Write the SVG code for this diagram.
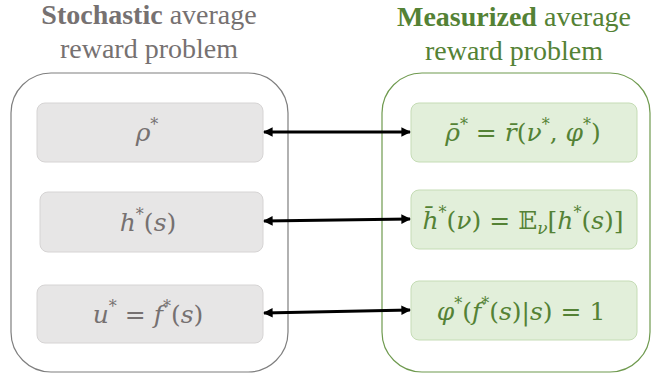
<svg xmlns="http://www.w3.org/2000/svg" width="651" height="374" viewBox="0 0 651 374">
<defs>
<style>
.title{font-family:'Liberation Serif',serif;font-size:28px;text-anchor:middle}
.gray{fill:#767171}
.green{fill:#548235}
.math{font-family:'DejaVu Serif',serif;font-size:25px;text-anchor:middle}
.i{font-style:italic}
.sup{font-size:16px}
.lbox{fill:#e7e6e6;stroke:#d6d4d4;stroke-width:1}
.rbox{fill:#e2efda;stroke:#c5dcb5;stroke-width:1}
.conn{stroke:#000;stroke-width:3;fill:none;marker-start:url(#ah);marker-end:url(#ah)}
</style>
<marker id="ah" viewBox="0 0 10 10" refX="9" refY="5" markerWidth="4" markerHeight="3.2" orient="auto-start-reverse" markerUnits="strokeWidth">
<path d="M0,0 L10,5 L0,10 z" fill="#000"/>
</marker>
</defs>
<rect width="651" height="374" fill="#fff"/>

<g id="stochastic">
<rect x="11" y="73" width="277" height="299" rx="40" fill="none" stroke="#7f7f7f" stroke-width="1.2"/>
<text class="title gray" x="149" y="24"><tspan font-weight="bold">Stochastic</tspan> average</text>
<text class="title gray" x="149" y="58">reward problem</text>
</g>

<g id="measurized">
<rect x="382" y="73" width="268" height="299" rx="40" fill="none" stroke="#6f9a4f" stroke-width="1.2"/>
<text class="title green" x="514" y="26"><tspan font-weight="bold">Measurized</tspan> average</text>
<text class="title green" x="514" y="60">reward problem</text>
</g>

<g id="rho">
<rect class="lbox" x="37" y="103" width="226" height="59" rx="8"/>
<text class="math gray" x="147" y="141"><tspan class="i">ρ</tspan><tspan class="sup" dy="-11">*</tspan></text>
</g>
<g id="h">
<rect class="lbox" x="40" y="192" width="223" height="60" rx="8"/>
<text class="math gray" x="148" y="231"><tspan class="i">h</tspan><tspan class="sup" dy="-11">*</tspan><tspan dy="11">(</tspan><tspan class="i">s</tspan>)</text>
</g>
<g id="u">
<rect class="lbox" x="37" y="285" width="226" height="58" rx="8"/>
<text class="math gray" x="148" y="323"><tspan class="i">u</tspan><tspan class="sup" dy="-11">*</tspan><tspan dy="11"> = </tspan><tspan class="i">f</tspan><tspan class="sup" dy="-11">*</tspan><tspan dy="11">(</tspan><tspan class="i">s</tspan>)</text>
</g>

<g id="rhobar">
<rect class="rbox" x="411" y="103" width="226" height="59" rx="8"/>
<text class="math green" x="523" y="141"><tspan class="i">ρ̄</tspan><tspan class="sup" dy="-11">*</tspan><tspan dy="11"> = </tspan><tspan class="i">r̄</tspan>(<tspan class="i">ν</tspan><tspan class="sup" dy="-11">*</tspan><tspan dy="11">, </tspan><tspan class="i">φ</tspan><tspan class="sup" dy="-11">*</tspan><tspan dy="11">)</tspan></text>
</g>
<g id="hbar">
<rect class="rbox" x="411" y="190" width="226" height="59" rx="8"/>
<text class="math green" x="523" y="229"><tspan class="i">h̄</tspan><tspan class="sup" dy="-11">*</tspan><tspan dy="11">(</tspan><tspan class="i">ν</tspan>) = 𝔼<tspan class="i" font-size="17" dy="5">ν</tspan><tspan dy="-5">[</tspan><tspan class="i">h</tspan><tspan class="sup" dy="-11">*</tspan><tspan dy="11">(</tspan><tspan class="i">s</tspan>)]</text>
</g>
<g id="phi">
<rect class="rbox" x="411" y="281" width="226" height="59" rx="8"/>
<text class="math green" x="521" y="320"><tspan class="i">φ</tspan><tspan class="sup" dy="-11">*</tspan><tspan dy="11">(</tspan><tspan class="i">f</tspan><tspan class="sup" dy="-11">*</tspan><tspan dy="11">(</tspan><tspan class="i">s</tspan>)|<tspan class="i">s</tspan>) = 1</text>
</g>

<g id="connectors">
<line class="conn" x1="264" y1="132" x2="410" y2="132"/>
<line class="conn" x1="264" y1="221" x2="410" y2="219"/>
<line class="conn" x1="264" y1="313" x2="410" y2="310"/>
</g>
</svg>
